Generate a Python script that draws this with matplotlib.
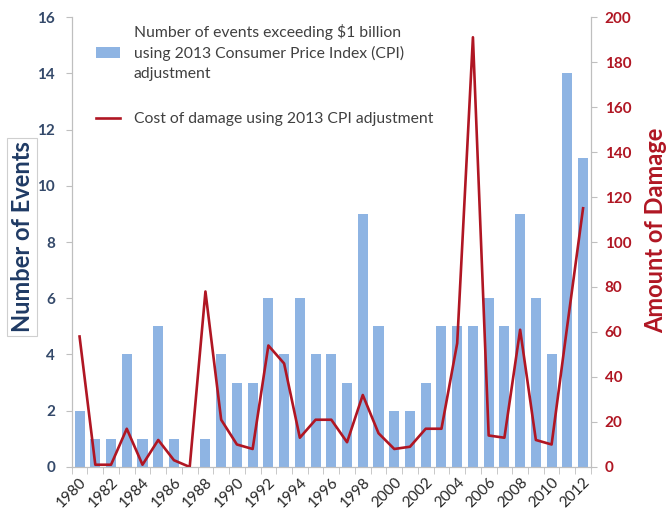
import matplotlib.pyplot as plt
import numpy as np

years = list(range(1980, 2013))
events = [2, 1, 1, 4, 1, 5, 1, 0, 1, 4, 3, 3, 6, 4, 6, 4, 4, 3, 9, 5,
          2, 2, 3, 5, 5, 5, 6, 5, 9, 6, 4, 14, 11]
damage = [58, 1, 1, 17, 1, 12, 3, 0, 78, 21, 10, 8, 54, 46, 13, 21, 21, 11, 32, 15,
          8, 9, 17, 17, 55, 191, 14, 13, 61, 12, 10, 63, 115]

bar_label = ("Number of events exceeding \\$1 billion\n"
             "using 2013 Consumer Price Index (CPI)\nadjustment")
line_label = "Cost of damage using 2013 CPI adjustment"

plt.rcParams['font.family'] = ['Lato', 'DejaVu Sans']

blue = '#8EB4E3'
red = '#B01623'
navy = '#1F3A64'
grey = '#BFBFBF'

fig = plt.figure(figsize=(6.7, 5.16), dpi=100)
ax = fig.add_axes([0.107, 0.095, 0.775, 0.872])
ax2 = ax.twinx()

x = np.arange(len(years))
bars = ax.bar(x, events, width=0.64, color=blue, label=bar_label)
line, = ax2.plot(x, damage, color=red, lw=1.9, label=line_label)

ax.set_xlim(-0.5, len(years) - 0.5)
ax.set_ylim(0, 16)
ax.set_yticks(np.arange(0, 17, 2))
ax2.set_ylim(0, 200)
ax2.set_yticks(np.arange(0, 201, 20))

ax.set_xticks(x[::2])
ax.set_xticklabels([str(y) for y in years[::2]], rotation=45, ha='right',
                   rotation_mode='anchor', fontsize=11, color='#262626')
ax.set_xticks(np.arange(-0.5, len(years), 1), minor=True)
ax.tick_params(axis='x', which='major', length=0, pad=6)
ax.tick_params(axis='x', which='minor', length=5, color=grey)

for lab in ax.get_yticklabels():
    lab.set_fontweight('bold')
for lab in ax2.get_yticklabels():
    lab.set_fontweight('bold')
ax.tick_params(axis='y', labelsize=11, labelcolor='#34496A', length=4, color=grey, pad=8)
ax2.tick_params(axis='y', labelsize=11, labelcolor=red, length=4, color=grey, pad=6)

for a in (ax, ax2):
    for s in a.spines.values():
        s.set_color(grey)
    a.spines['top'].set_visible(False)

ax.set_ylabel("Number of Events", fontsize=17, fontweight='bold', color=navy,
              bbox=dict(boxstyle='square,pad=0.15', fc='white', ec='#CFCFCF', lw=0.8))
ax.yaxis.set_label_coords(-0.073, 0.511)
ax2.set_ylabel("Amount of Damage", fontsize=17, fontweight='bold', color=red)
ax2.yaxis.set_label_coords(1.103, 0.527)

leg = ax2.legend([bars, line], [bar_label, line_label], loc='upper left',
                 bbox_to_anchor=(0.02, 1.015), frameon=False, fontsize=11.3,
                 handlelength=1.5, handletextpad=0.9, labelspacing=2.0,
                 labelcolor='#404040')
for t in leg.get_texts():
    t.set_linespacing(1.5)

plt.savefig("out.png", dpi=100)
